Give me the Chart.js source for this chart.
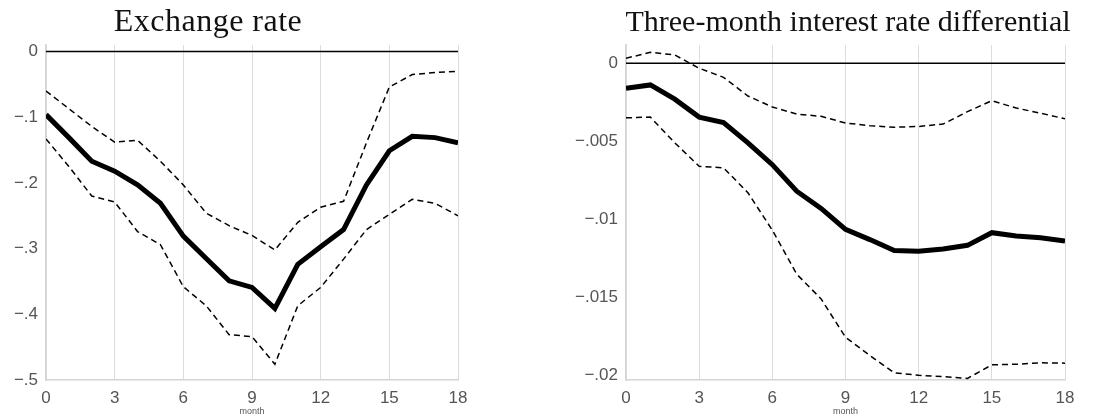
<!DOCTYPE html>
<html>
<head>
<meta charset="utf-8">
<script src="https://cdn.jsdelivr.net/npm/chart.js@4/dist/chart.umd.min.js"></script>
<style>
    html, body { margin: 0; padding: 0; background: #fff; }
    #wrap { position: relative; width: 1097px; height: 420px; overflow: hidden; }
    .panel { position: absolute; top: 0; height: 420px; }
    .title {
        position: absolute; top: 4px; white-space: nowrap;
        font-family: 'Liberation Serif', 'DejaVu Serif', serif;
        font-size: 30px; color: #111; transform: translateX(-50%);
    }
</style>
</head>
<body>
<div id="wrap">
    <div class="panel" style="left:0; width:480px;"><canvas id="fx"></canvas></div>
    <div class="panel" style="left:560px; width:537px;"><canvas id="ir"></canvas></div>
    <div class="title" style="left:208px; top:2px; font-size:32px; letter-spacing:0.5px;">Exchange rate</div>
    <div class="title" style="left:848px;">Three-month interest rate differential</div>
</div>
<script>
const months = [0,1,2,3,4,5,6,7,8,9,10,11,12,13,14,15,16,17,18];

// Exchange rate response
const fxPoint = [-0.096,-0.131,-0.167,-0.182,-0.203,-0.231,-0.281,-0.315,-0.349,-0.359,-0.391,-0.324,-0.297,-0.271,-0.203,-0.151,-0.129,-0.131,-0.139];
const fxUpper = [-0.060,-0.087,-0.114,-0.138,-0.135,-0.167,-0.203,-0.246,-0.265,-0.280,-0.302,-0.260,-0.237,-0.228,-0.139,-0.054,-0.035,-0.032,-0.030];
const fxLower = [-0.133,-0.175,-0.220,-0.229,-0.274,-0.294,-0.358,-0.387,-0.431,-0.434,-0.476,-0.387,-0.359,-0.316,-0.271,-0.248,-0.225,-0.231,-0.250];
const fxTicks = [0,-0.1,-0.2,-0.3,-0.4,-0.5];
const fxTickLabels = ['0','\u2212.1','\u2212.2','\u2212.3','\u2212.4','\u2212.5'];

// Interest rate differential response
const irPoint = [-0.0016,-0.00139,-0.0023,-0.00345,-0.0038,-0.0051,-0.0065,-0.0082,-0.0093,-0.01065,-0.0113,-0.0120,-0.01205,-0.0119,-0.01167,-0.01086,-0.01107,-0.01118,-0.0114];
const irUpper = [0.00032,0.0007,0.00053,-0.00032,-0.0009,-0.0021,-0.0028,-0.00326,-0.0034,-0.00383,-0.0040,-0.0041,-0.00405,-0.0039,-0.0031,-0.0024,-0.00287,-0.0032,-0.00356];
const irLower = [-0.0035,-0.00345,-0.0051,-0.0066,-0.0067,-0.0083,-0.0107,-0.01352,-0.0151,-0.01756,-0.01873,-0.01984,-0.0200,-0.02008,-0.0202,-0.01933,-0.01929,-0.0192,-0.01922];
const irTicks = [0,-0.005,-0.01,-0.015,-0.02];
const irTickLabels = ['0','\u2212.005','\u2212.01','\u2212.015','\u2212.02'];

const xTicks = [0,3,6,9,12,15,18];

const tickFont = { family: "'Liberation Sans', Arial, sans-serif", size: 17 };

function pts(vals) {
    return months.map((m, i) => ({ x: m, y: vals[i] }));
}

function makeChart(id, point, upper, lower, yMin, yMax, yTicks, yLabels, yAxisW, padRight) {
    const dashed = { borderColor: '#000', borderWidth: 1.5, borderDash: [6, 4], pointRadius: 0, tension: 0, fill: false };
    return new Chart(document.getElementById(id), {
        type: 'line',
        data: {
            datasets: [
                { data: pts(months.map(() => 0)), borderColor: '#000', borderWidth: 1.6, pointRadius: 0, fill: false },
                Object.assign({ data: pts(upper) }, dashed),
                Object.assign({ data: pts(lower) }, dashed),
                { data: pts(point), borderColor: '#000', borderWidth: 5, pointRadius: 0, tension: 0, fill: false }
            ]
        },
        options: {
            responsive: true,
            maintainAspectRatio: false,
            animation: false,
            devicePixelRatio: 1,
            layout: { padding: { top: 45, right: padRight, left: 0, bottom: 0 } },
            plugins: { legend: { display: false }, tooltip: { enabled: false }, title: { display: false } },
            scales: {
                x: {
                    type: 'linear', min: 0, max: 18,
                    afterBuildTicks: s => { s.ticks = xTicks.map(v => ({ value: v })); },
                    afterFit: s => { s.height = 40; },
                    ticks: { color: '#555', font: tickFont, padding: 8, maxRotation: 0 },
                    grid: { color: '#dcdcdc', lineWidth: 1, drawTicks: false },
                    border: { color: '#d4d4d4', width: 1.5 },
                    title: { display: true, text: 'month', color: '#555', font: { family: "'Liberation Sans', Arial, sans-serif", size: 9 }, padding: { top: 0, bottom: 3 } }
                },
                y: {
                    min: yMin, max: yMax,
                    afterBuildTicks: s => { s.ticks = yTicks.map(v => ({ value: v })); },
                    afterFit: s => { s.width = yAxisW; },
                    ticks: { color: '#555', font: tickFont, padding: 8, callback: (v, i) => yLabels[i] },
                    grid: { display: false, drawTicks: false },
                    border: { display: true, color: '#d4d4d4', width: 1.5 }
                }
            }
        }
    });
}

makeChart('fx', fxPoint, fxUpper, fxLower, -0.5, 0.01, fxTicks, fxTickLabels, 46, 22);
makeChart('ir', irPoint, irUpper, irLower, -0.0203, 0.00117, irTicks, irTickLabels, 66, 32);
</script>
</body>
</html>
